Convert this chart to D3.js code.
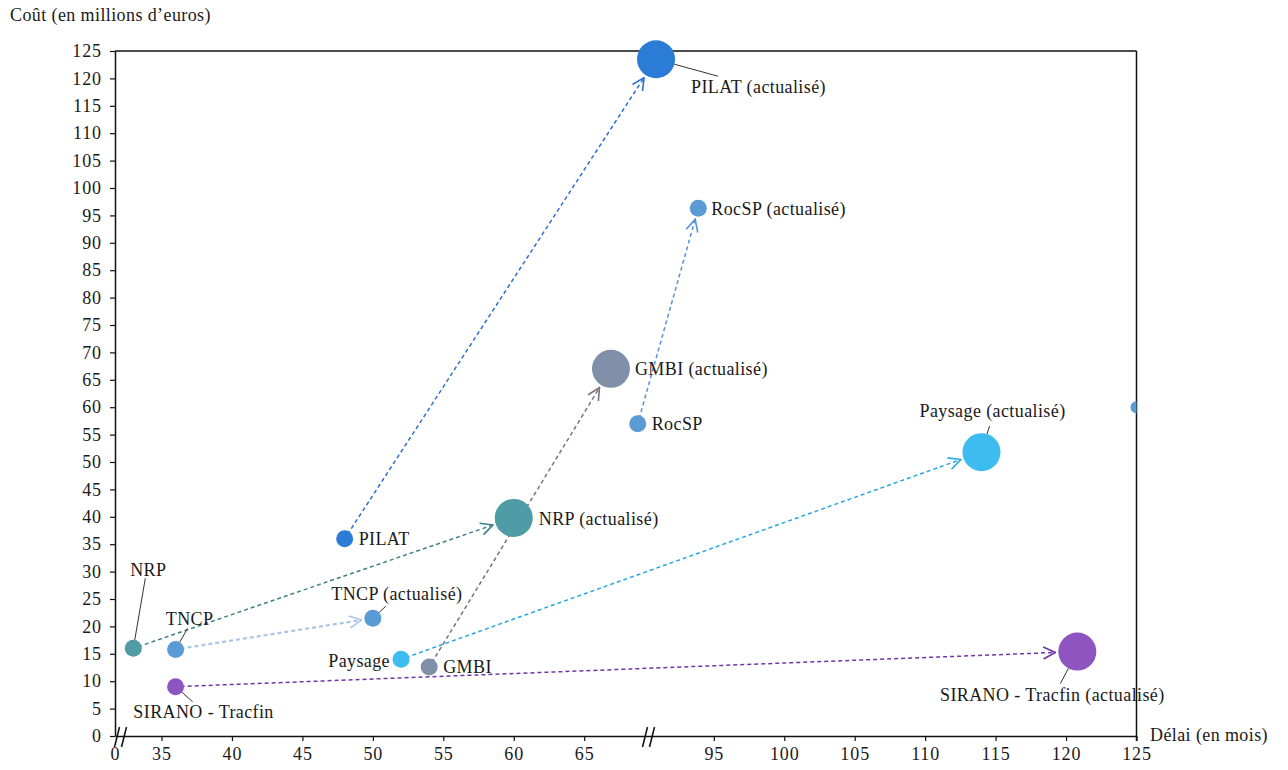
<!DOCTYPE html>
<html>
<head>
<meta charset="utf-8">
<script src="https://cdn.jsdelivr.net/npm/d3@7"></script>
<style>
  body { margin: 0; background: #fff; }
  text { font-family: "Palatino Linotype", "Book Antiqua", Palatino, "Liberation Serif", serif; fill: #1a1a1a; }
</style>
</head>
<body>
<svg id="chart" width="1288" height="770"></svg>
<script>
// Projects: initial estimate vs. updated estimate (delay in months, cost in M€)
const projects      = ["PILAT", "RocSP", "GMBI", "NRP", "TNCP", "Paysage", "SIRANO - Tracfin"];
const initialDelay  = [48, 68.8, 54, 33, 36, 52, 36];
const initialCost   = [36, 57, 12.6, 16, 15.8, 14, 9];
const updatedDelay  = [90.9, 93.9, 66.9, 60, 50, 114, 120.8];
const updatedCost   = [123.5, 96.3, 67, 39.8, 21.5, 51.8, 15.4];
const initialBubble = [1, 1, 1, 1, 1, 1, 1];
const updatedBubble = [5, 1, 5, 5, 1, 5, 5];
const updatedSuffix = " (actualisé)";

// Stray bubble sitting on the right edge of the plot
const edgeDelay = [125];
const edgeCost  = [60];

// Axes
const yTicks = d3.range(0, 126, 5);
const xTicks = [0, 35, 40, 45, 50, 55, 60, 65, 95, 100, 105, 110, 115, 120, 125];
const xVisible = [[31.7, 69.6], [90.4, 125]]; // delay ranges shown on each side of the axis breaks
const yTitle = "Coût (en millions d’euros)";
const xTitle = "Délai (en mois)";

// Styling
const pointColors = ["#2b7cd6", "#5b9bd5", "#8090a9", "#4f9ba6", "#5b9bd5", "#3dbcef", "#8e55c1"];
const arrowColors = ["#2e6ed2", "#5a8ee0", "#7b7081", "#3f7f87", "#a9c5ea", "#27a7e2", "#7234a6"];
const arrowWidths = [1.5, 1.5, 1.5, 1.5, 2.2, 1.5, 1.5];
const labelFont = { size: "18px", spacing: "0.4px" };
const tickFont  = { size: "18px", spacing: "0.9px" };

// Label layout relative to each bubble: [dx, dy, anchor, leaderEnd or null]
const initialLabels = [
  [14, 0, "start", null],
  [14, 0, "start", null],
  [14, 0, "start", null],
  [15, -79, "middle", [12, -70]],
  [14, -31, "middle", [12, -21]],
  [-11, 1, "end", null],
  [28, 25, "middle", [17, 15]]
];
const updatedLabels = [
  [35, 27, "start", [62, 17]],
  [13, 0, "start", null],
  [24, 0, "start", null],
  [25, 1, "start", null],
  [24, -24, "middle", [13, -12]],
  [11, -41, "middle", [8, -26]],
  [-25, 43, "middle", [-17, 32]]
];

const svg = d3.select("#chart");
const L = 115, R = 1136.5, T = 51, B = 736;

// Piecewise x scale: the stretches 0–31.7 and 69.6–90.4 are collapsed into axis breaks
const visibleUnits = d3.sum(xVisible, s => s[1] - s[0]);
const k = (R - L) / visibleUnits;
const breakX = L + k * (xVisible[0][1] - xVisible[0][0]);
const x = d3.scaleLinear()
  .domain([0, xVisible[0][0], xVisible[0][1], xVisible[1][0], xVisible[1][1]])
  .range([L, L, breakX, breakX, R]);
const y = d3.scaleLinear().domain([0, 125]).range([B, T]);
const r = d3.scaleSqrt().domain([0, 1]).range([0, 8.5]);

// Frame: top and right borders
svg.append("line").attr("x1", L).attr("x2", R).attr("y1", T).attr("y2", T)
  .attr("stroke", "#111").attr("stroke-width", 1.5);
svg.append("line").attr("x1", R).attr("x2", R).attr("y1", T).attr("y2", B + 5)
  .attr("stroke", "#111").attr("stroke-width", 1.5);

// Y axis
const gy = svg.append("g").attr("transform", `translate(${L},0)`)
  .call(d3.axisLeft(y).tickValues(yTicks).tickSize(5).tickPadding(8).tickSizeOuter(0));
// X axis
const gx = svg.append("g").attr("transform", `translate(0,${B})`)
  .call(d3.axisBottom(x).tickValues(xTicks).tickSize(5).tickPadding(6).tickSizeOuter(0));
[gx, gy].forEach(g => {
  g.selectAll("path.domain").attr("stroke", "#111").attr("stroke-width", 1.5);
  g.selectAll(".tick line").attr("stroke", "#111").attr("stroke-width", 1.2);
  g.selectAll(".tick text")
    .style("font-size", tickFont.size)
    .style("letter-spacing", tickFont.spacing)
    .style("font-family", null)
    .attr("fill", "#1a1a1a");
});
gx.selectAll(".tick").filter(d => d === 0).select("line").remove();

// Axis break marks
function breakMark(cx) {
  [-2.5, 4.5].forEach(o => {
    svg.append("line")
      .attr("x1", cx + o - 3).attr("y1", B + 11)
      .attr("x2", cx + o + 2).attr("y2", B - 9)
      .attr("stroke", "#111").attr("stroke-width", 1.5);
  });
}
breakMark(L + 5);
breakMark(breakX - 1);

// Axis titles
svg.append("text").attr("x", 10).attr("y", 21)
  .style("font-size", labelFont.size).style("letter-spacing", labelFont.spacing).text(yTitle);
svg.append("text").attr("x", 1150).attr("y", 741)
  .style("font-size", labelFont.size).style("letter-spacing", labelFont.spacing).text(xTitle);

// Clip region for bubbles
svg.append("clipPath").attr("id", "plot-clip")
  .append("rect").attr("x", L).attr("y", 0).attr("width", R - L).attr("height", B);

// Arrow markers
const defs = svg.append("defs");
projects.forEach((p, i) => {
  defs.append("marker")
    .attr("id", "arrow-" + i)
    .attr("markerUnits", "userSpaceOnUse")
    .attr("viewBox", "0 0 14 14")
    .attr("refX", 13).attr("refY", 7)
    .attr("markerWidth", 14).attr("markerHeight", 14)
    .attr("orient", "auto")
    .append("path")
    .attr("d", "M1,1 L13,7 L1,13")
    .attr("fill", "none")
    .attr("stroke", arrowColors[i])
    .attr("stroke-width", 1.6);
});

const data = projects.map((p, i) => ({
  i, name: p,
  x0: x(initialDelay[i]), y0: y(initialCost[i]), r0: r(initialBubble[i]),
  x1: x(updatedDelay[i]), y1: y(updatedCost[i]), r1: r(updatedBubble[i])
}));

// Dashed arrows from initial to updated estimate
data.forEach(d => {
  const dx = d.x1 - d.x0, dy = d.y1 - d.y0, len = Math.hypot(dx, dy);
  const ux = dx / len, uy = dy / len;
  const startTrim = d.r0 * 0.6, endTrim = d.r1 + 3;
  svg.append("line")
    .attr("x1", d.x0 + ux * startTrim).attr("y1", d.y0 + uy * startTrim)
    .attr("x2", d.x1 - ux * endTrim).attr("y2", d.y1 - uy * endTrim)
    .attr("stroke", arrowColors[d.i])
    .attr("stroke-width", arrowWidths[d.i])
    .attr("stroke-dasharray", "4,3")
    .attr("marker-end", `url(#arrow-${d.i})`);
});

// Bubbles
const bubbles = svg.append("g").attr("clip-path", "url(#plot-clip)");
data.forEach(d => {
  bubbles.append("circle").attr("cx", d.x0).attr("cy", d.y0).attr("r", d.r0).attr("fill", pointColors[d.i]);
  bubbles.append("circle").attr("cx", d.x1).attr("cy", d.y1).attr("r", d.r1).attr("fill", pointColors[d.i]);
});
edgeDelay.forEach((v, j) => {
  bubbles.append("circle").attr("cx", x(v)).attr("cy", y(edgeCost[j])).attr("r", 6).attr("fill", "#5b9bd5");
});

// Labels with optional leader lines
function label(cx, cy, rad, text, spec) {
  const [dx, dy, anchor, leader] = spec;
  if (leader) {
    const len = Math.hypot(leader[0], leader[1]);
    svg.append("line")
      .attr("x1", cx + leader[0] / len * rad).attr("y1", cy + leader[1] / len * rad)
      .attr("x2", cx + leader[0]).attr("y2", cy + leader[1])
      .attr("stroke", "#333").attr("stroke-width", 1);
  }
  svg.append("text")
    .attr("x", cx + dx).attr("y", cy + dy)
    .attr("dy", "0.35em")
    .attr("text-anchor", anchor)
    .style("font-size", labelFont.size)
    .style("letter-spacing", labelFont.spacing)
    .text(text);
}
data.forEach(d => {
  label(d.x0, d.y0, d.r0, d.name, initialLabels[d.i]);
  label(d.x1, d.y1, d.r1, d.name + updatedSuffix, updatedLabels[d.i]);
});
</script>
</body>
</html>
